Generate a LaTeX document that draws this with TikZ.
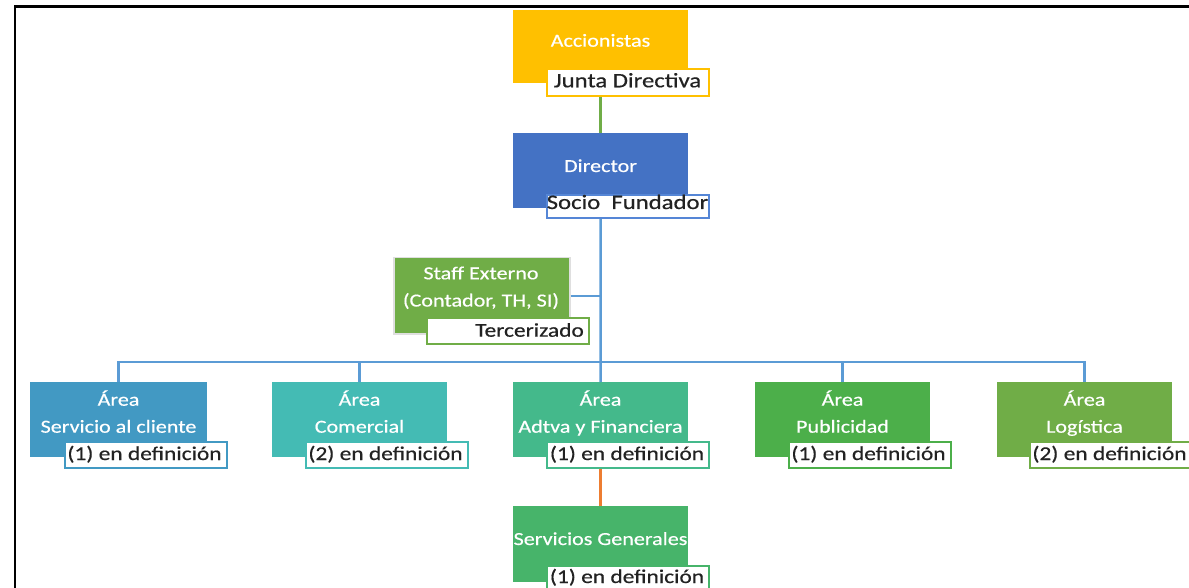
\documentclass[tikz,border=0pt]{standalone}
\usepackage{fontspec}
\setmainfont[FakeStretch=1.2,FakeBold=0.5]{Carlito}
\definecolor{accY}{HTML}{FFC000}
\definecolor{dirB}{HTML}{4472C4}
\definecolor{socB}{HTML}{5586D6}
\definecolor{busB}{HTML}{5B9BD5}
\definecolor{stG}{HTML}{70AD47}
\definecolor{scB}{HTML}{4299C3}
\definecolor{coT}{HTML}{44BBB4}
\definecolor{adG}{HTML}{44B98B}
\definecolor{puG}{HTML}{4CAF4A}
\definecolor{loG}{HTML}{70AD47}
\definecolor{sgG}{HTML}{47B46A}
\definecolor{orL}{HTML}{ED7D31}
\definecolor{txtc}{HTML}{222222}
\begin{document}
\begin{tikzpicture}[x=1pt,y=-1pt,
  box/.style={draw=none, anchor=north west, inner sep=0pt, minimum width=175pt, minimum height=75pt},
  sub/.style={draw, line width=2pt, fill=white, anchor=north west, inner sep=0pt, minimum width=162pt, minimum height=26pt},
  mtxt/.style={anchor=base, text=white, font=\fontsize{18.4}{21}\selectfont, inner sep=0pt},
  stxt/.style={anchor=base, text=txtc, font=\fontsize{19.5}{22}\selectfont, inner sep=0pt},
  btxt/.style={anchor=base, text=txtc, font=\fontsize{20.6}{23}\selectfont, inner sep=0pt},
  conn/.style={line width=2.5pt}]
\useasboundingbox (0,0) rectangle (1189,588);
% frame
\draw[line width=2.5pt, black] (15,588) -- (15,6.5) -- (1189,6.5);

% Accionistas
\node[box, fill=accY, minimum height=73pt] (acc) at (513,10) {};
\node[mtxt] (acct) at (600.5,46.7) {Accionistas};
\node[sub, draw=accY, minimum height=27pt] (junta) at (546,68) {};
\node[btxt] (juntat) at (627.5,87.3) {Junta Directiva};

% Director
\node[box, fill=dirB] (dir) at (513,133) {};
\node[mtxt] (dirt) at (600.5,172) {Director};
\node[sub, draw=socB, minimum height=23pt] (socio) at (546,194) {};
\node[btxt] (sociot) at (627.5,209) {Socio\ \ Fundador};

\coordinate (bus) at (600.5,362);

% Staff
\node[box, fill=stG, draw=gray!25, line width=1.5pt, minimum width=176pt, minimum height=76pt] (staff) at (393,257) {};
\node[mtxt] (stafft1) at (481,279.3) {Staff Externo};
\node[mtxt] (stafft2) at (481,306.5) {(Contador, TH, SI)};
\node[sub, draw=stG, minimum height=26pt] (terc) at (426,317) {};
\node[stxt, anchor=base east] (terct) at (584,336.7) {Tercerizado};

% Areas
\node[box, fill=scB, minimum width=177pt] (sc) at (30,382) {};
\node[mtxt] (sct1) at (118.5,405.7) {Área};
\node[mtxt] (sct2) at (118.5,432.7) {Servicio al cliente};
\node[sub, draw=scB] (scs) at (64,441) {};
\node[stxt] (scst) at (144.5,460) {(1) en definición};

\node[box, fill=coT] (co) at (272,382) {};
\node[mtxt] (cot1) at (359.5,405.7) {Área};
\node[mtxt] (cot2) at (359.5,432.7) {Comercial};
\node[sub, draw=coT] (cos) at (305,441) {};
\node[stxt] (cost) at (385.5,460) {(2) en definición};

\node[box, fill=adG] (ad) at (513,382) {};
\node[mtxt] (adt1) at (600.5,405.7) {Área};
\node[mtxt] (adt2) at (600.5,432.7) {Adtva y Financiera};
\node[sub, draw=adG] (ads) at (546,441) {};
\node[stxt] (adst) at (627,460) {(1) en definición};

\node[box, fill=puG] (pu) at (755,382) {};
\node[mtxt] (put1) at (842.5,405.7) {Área};
\node[mtxt] (put2) at (842.5,432.7) {Publicidad};
\node[sub, draw=puG] (pus) at (788,441) {};
\node[stxt] (pust) at (868.5,460) {(1) en definición};

\node[box, fill=loG] (lo) at (997,382) {};
\node[mtxt] (lot1) at (1084.5,405.7) {Área};
\node[mtxt] (lot2) at (1084.5,432.7) {Logística};
\node[sub, draw=loG] (los) at (1029,441) {};
\node[stxt] (lost) at (1109.5,460) {(2) en definición};

% Servicios Generales
\node[box, fill=sgG, minimum height=76pt] (sg) at (513,506) {};
\node[mtxt] (sgt) at (600.5,545) {Servicios Generales};
\node[sub, draw=sgG, minimum height=28pt] (sgs) at (546,565) {};
\node[stxt] (sgst) at (627,583) {(1) en definición};

% connectors
\draw[conn, stG] (acc.south |- junta.south) -- (dir.north);
\draw[conn, busB] (dir.south |- socio.south) -- (bus);
\draw[conn, busB] (staff.east) -- (staff.east -| bus);
\draw[conn, busB] (bus) -| (sc.north);
\draw[conn, busB] (bus) -| (co.north);
\draw[conn, busB] (bus) -- (ad.north);
\draw[conn, busB] (bus) -| (pu.north);
\draw[conn, busB] (bus) -| (lo.north);
\draw[conn, orL] (ad.south |- ads.south) -- (sg.north);
\end{tikzpicture}
\end{document}
